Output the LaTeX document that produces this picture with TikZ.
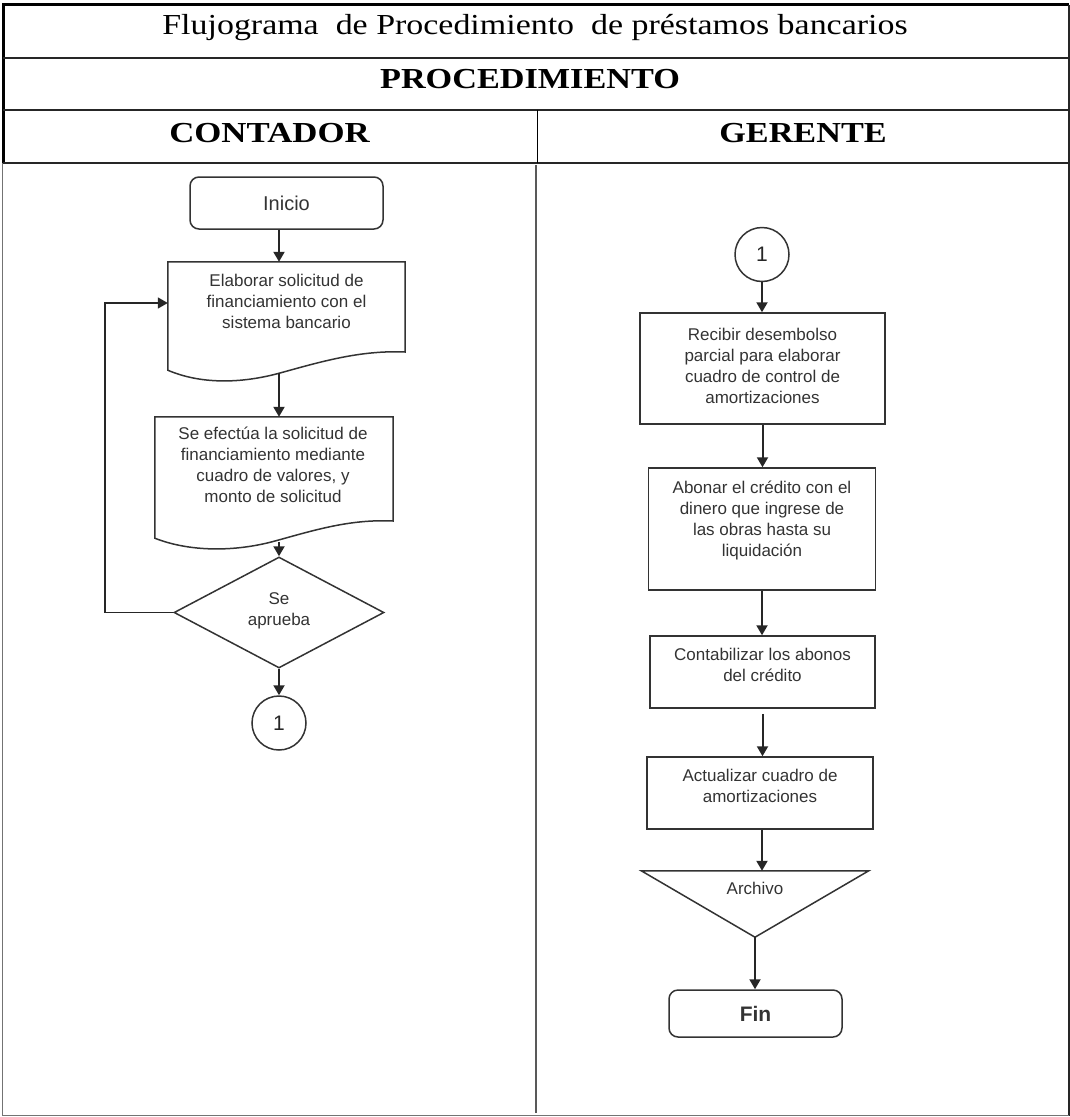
\documentclass[tikz,border=0pt]{standalone}
\usepackage{graphicx}
\usepackage{fontspec}
\usetikzlibrary{arrows.meta,shapes.geometric,calc}
\newfontfamily\sansflow{Liberation Sans}
\newfontfamily\serifhead{Liberation Serif}

\begin{document}
\begin{tikzpicture}[x=1pt,y=-1pt,
  flowline/.style={draw=black!80, line width=1.5pt},
  conn/.style={draw=black!85, line width=2pt, -{Triangle[length=10pt,width=11pt]}},
  flowtext/.style={font=\sansflow\fontsize{17}{21}\selectfont, text=black!80, align=center, inner sep=0pt},
  headtext/.style={font=\serifhead\fontsize{29}{34}\selectfont, anchor=base, inner sep=0pt},
  procbox/.style={flowline, rectangle, inner sep=0pt},
  shapebox/.style={draw=none, rectangle, inner sep=0pt},
  termbox/.style={flowline, rectangle, rounded corners=9pt, inner sep=0pt},
  onpage/.style={flowline, circle, inner sep=0pt, minimum size=54pt,
    font=\sansflow\fontsize{21}{24}\selectfont, text=black!85},
  decision/.style={flowline, diamond, inner sep=0pt, align=center,
    font=\sansflow\fontsize{17}{21}\selectfont, text=black!80},
]
\useasboundingbox (0,0) rectangle (1070,1117);

% ---------- table frame ----------
\draw[line width=3pt] (3,162.5) -- (3,4.5) -- (1068.5,4.5);
\draw[line width=2pt, draw=black!85] (1068.5,4.5) -- (1068.5,1115.5);
\draw[line width=1.5pt, draw=black!55] (1068.5,1115.5) -- (2.5,1115.5) -- (2.5,162.5);
\draw[line width=2pt, draw=black!85] (3,57.5) -- (1068.5,57.5);
\draw[line width=2pt, draw=black!85] (3,109.5) -- (1068.5,109.5);
\draw[line width=2pt, draw=black!85] (3,162.5) -- (1068.5,162.5);
\draw[line width=1.5pt] (537.5,109.5) -- (537.5,162.5);
\draw[line width=2pt, draw=black!65] (536,165) -- (536,1113);

% ---------- headings ----------
\node[headtext] (title) at (535,34)
  {\scalebox{1.17}[1]{Flujograma\ \ de Procedimiento\ \ de préstamos bancarios}};
\node[headtext, font=\serifhead\bfseries\fontsize{29}{34}\selectfont] (proc) at (530,88)
  {\scalebox{1.18}[1]{PROCEDIMIENTO}};
\node[headtext, font=\serifhead\bfseries\fontsize{29}{34}\selectfont] (contador) at (269.5,142)
  {\scalebox{1.2}[1]{CONTADOR}};
\node[headtext, font=\serifhead\bfseries\fontsize{29}{34}\selectfont] (gerente) at (803,142)
  {\scalebox{1.18}[1]{GERENTE}};

% ---------- CONTADOR lane ----------
\coordinate (colL) at (279,0);
\node[termbox, minimum width=193pt, minimum height=52pt,
      font=\sansflow\fontsize{20}{24}\selectfont, text=black!80] (ini) at (286.5,203) {Inicio};

% document 1
\node[shapebox, minimum width=237pt, minimum height=108pt] (d1) at (286.5,316) {};
\draw[flowline] (d1.south west) -- (d1.north west) -- (d1.north east) -- (405,352)
  .. controls (360,350) and (320,362) .. (280,373)
  .. controls (240,384) and (200,384) .. (d1.south west) -- cycle;
\node[flowtext] (d1t) at (286.5,301)
  {Elaborar solicitud de\\financiamiento con el\\sistema bancario};

% document 2
\node[shapebox, minimum width=238pt, minimum height=121pt] (d2) at (274,477.5) {};
\draw[flowline] (d2.south west) -- (d2.north west) -- (d2.north east) -- (393,521)
  .. controls (350,519) and (315,530) .. (275,541)
  .. controls (235,552) and (190,552) .. (d2.south west) -- cycle;
\node[flowtext] (d2t) at (273,464.5)
  {Se efectúa la solicitud de\\financiamiento mediante\\cuadro de valores, y\\monto de solicitud};

\node[decision, minimum width=210pt, minimum height=111pt] (dia) at (279,612.5) {};
\node[flowtext] (diat) at (279,611) {Se\\aprueba};

\node[onpage] (c1) at (279,723) {1};

\draw[conn] (ini.south -| colL) -- (d1.north -| colL);
\draw[conn] ($(d1.south -| colL)+(0,3)$) -- (d2.north -| colL);
\draw[conn] ($(d2.south -| colL)+(0,4)$) -- (dia.north);
\draw[conn] (dia.south) -- (c1.north);
\coordinate (lp) at (105,303);
\draw[conn, line width=1.6pt] (dia.west) -| (lp) -- (lp -| d1.west);

% ---------- GERENTE lane ----------
\node[onpage] (c2) at (762,254.5) {1};

\node[procbox, minimum width=245pt, minimum height=111pt] (b1) at (762.5,368.5) {};
\node[flowtext] (b1t) at (762.5,366)
  {Recibir desembolso\\parcial para elaborar\\cuadro de control de\\amortizaciones};

\node[procbox, minimum width=227pt, minimum height=122pt] (b2) at (762,529) {};
\node[flowtext] (b2t) at (762,520)
  {Abonar el crédito con el\\dinero que ingrese de\\las obras hasta su\\liquidación};

\node[procbox, minimum width=225pt, minimum height=72pt] (b3) at (762.5,672) {};
\node[flowtext] (b3t) at (762.5,665) {Contabilizar los abonos\\del crédito};

\node[procbox, minimum width=226pt, minimum height=72pt] (b4) at (760,793) {};
\node[flowtext] (b4t) at (760,786) {Actualizar cuadro de\\amortizaciones};

\node[shapebox, minimum width=227pt, minimum height=66pt] (tri) at (755,904) {};
\draw[flowline] (tri.north west) -- (tri.north east) -- (tri.south) -- cycle;
\node[flowtext] (trit) at (755,888) {Archivo};

\node[termbox, minimum width=173pt, minimum height=47pt,
      font=\sansflow\bfseries\fontsize{21}{24}\selectfont, text=black!80] (fin) at (755.5,1013.5) {Fin};

\draw[conn] (c2.south) -- (c2.south |- b1.north);
\draw[conn] (b1.south) -- (b1.south |- b2.north);
\draw[conn] (b2.south) -- (b2.south |- b3.north);
\draw[conn] ($(b3.south)+(0,5)$) -- (b3.south |- b4.north);
\draw[conn] ($(b4.south)+(2,0)$) -- ($(b4.south |- tri.north)+(2,0)$);
\draw[conn] (tri.south) -- (tri.south |- fin.north);
\end{tikzpicture}
\end{document}
